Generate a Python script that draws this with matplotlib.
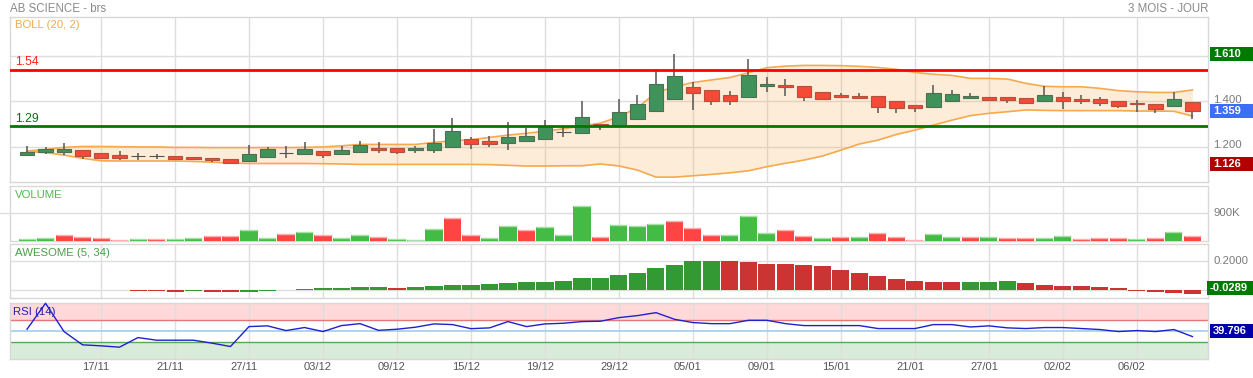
import numpy as np
import matplotlib
matplotlib.use('Agg')
import matplotlib.pyplot as plt
from matplotlib.patches import Rectangle
from matplotlib.transforms import blended_transform_factory

plt.rcParams['font.family'] = ['Liberation Sans', 'DejaVu Sans']

# ---------------- data ----------------
title = "AB SCIENCE - brs"
period = "3 MOIS - JOUR"
tick_labels = ['17/11', '21/11', '27/11', '03/12', '09/12', '15/12', '19/12', '29/12',
               '05/01', '09/01', '15/01', '21/01', '27/01', '02/02', '06/02']
tick_index = [4, 8, 12, 16, 20, 24, 28, 32, 36, 40, 44, 48, 52, 56, 60]

opens = [1.165, 1.175, 1.178, 1.185, 1.171, 1.163, 1.157, 1.157, 1.157, 1.154,
         1.150, 1.146, 1.138, 1.153, 1.171, 1.169, 1.181, 1.169, 1.178, 1.194,
         1.194, 1.187, 1.187, 1.200, 1.234, 1.225, 1.218, 1.226, 1.235, 1.263,
         1.262, 1.300, 1.291, 1.320, 1.356, 1.411, 1.463, 1.450, 1.428, 1.417,
         1.466, 1.472, 1.466, 1.441, 1.428, 1.423, 1.422, 1.400, 1.384, 1.376,
         1.403, 1.416, 1.419, 1.419, 1.413, 1.403, 1.419, 1.410, 1.409, 1.401,
         1.392, 1.388, 1.378, 1.397]
highs = [1.203, 1.197, 1.218, 1.187, 1.172, 1.181, 1.172, 1.166, 1.157, 1.154,
         1.150, 1.146, 1.206, 1.200, 1.201, 1.221, 1.181, 1.203, 1.226, 1.221,
         1.194, 1.203, 1.279, 1.326, 1.241, 1.246, 1.309, 1.282, 1.317, 1.285,
         1.401, 1.300, 1.410, 1.428, 1.533, 1.610, 1.486, 1.450, 1.445, 1.586,
         1.507, 1.497, 1.466, 1.441, 1.436, 1.436, 1.422, 1.400, 1.384, 1.472,
         1.450, 1.436, 1.419, 1.419, 1.413, 1.466, 1.441, 1.428, 1.419, 1.401,
         1.406, 1.388, 1.441, 1.397]
lows = [1.165, 1.169, 1.165, 1.147, 1.144, 1.141, 1.143, 1.147, 1.140, 1.141,
        1.134, 1.126, 1.138, 1.153, 1.150, 1.169, 1.152, 1.169, 1.178, 1.174,
        1.169, 1.174, 1.174, 1.200, 1.191, 1.199, 1.185, 1.223, 1.235, 1.244,
        1.262, 1.273, 1.291, 1.320, 1.356, 1.411, 1.363, 1.385, 1.385, 1.417,
        1.442, 1.425, 1.403, 1.412, 1.417, 1.413, 1.350, 1.350, 1.354, 1.376,
        1.403, 1.410, 1.403, 1.394, 1.387, 1.403, 1.368, 1.390, 1.381, 1.371,
        1.354, 1.350, 1.378, 1.322]
closes = [1.176, 1.190, 1.190, 1.159, 1.152, 1.152, 1.157, 1.157, 1.147, 1.146,
          1.143, 1.130, 1.166, 1.190, 1.171, 1.190, 1.165, 1.185, 1.207, 1.187,
          1.178, 1.196, 1.216, 1.269, 1.213, 1.213, 1.243, 1.247, 1.285, 1.263,
          1.329, 1.294, 1.353, 1.388, 1.476, 1.511, 1.435, 1.403, 1.403, 1.516,
          1.476, 1.461, 1.417, 1.412, 1.420, 1.416, 1.376, 1.369, 1.369, 1.436,
          1.432, 1.423, 1.407, 1.406, 1.394, 1.428, 1.403, 1.401, 1.394, 1.381,
          1.386, 1.367, 1.410, 1.359]

boll_upper = [1.181, 1.188, 1.197, 1.201, 1.201, 1.200, 1.199, 1.199, 1.197, 1.197,
              1.196, 1.196, 1.196, 1.196, 1.196, 1.197, 1.199, 1.204, 1.210, 1.210,
              1.210, 1.210, 1.219, 1.226, 1.231, 1.241, 1.251, 1.259, 1.268, 1.279,
              1.291, 1.304, 1.332, 1.372, 1.438, 1.464, 1.483, 1.494, 1.505, 1.526,
              1.548, 1.555, 1.558, 1.558, 1.557, 1.554, 1.549, 1.541, 1.527, 1.519,
              1.514, 1.501, 1.501, 1.498, 1.479, 1.466, 1.464, 1.464, 1.457, 1.447,
              1.442, 1.439, 1.439, 1.450]
boll_lower = [1.179, 1.174, 1.163, 1.149, 1.138, 1.137, 1.137, 1.137, 1.137, 1.135,
              1.132, 1.128, 1.126, 1.126, 1.126, 1.126, 1.125, 1.124, 1.122, 1.122,
              1.122, 1.122, 1.122, 1.122, 1.122, 1.121, 1.118, 1.115, 1.115, 1.116,
              1.116, 1.124, 1.115, 1.097, 1.066, 1.066, 1.072, 1.078, 1.085, 1.094,
              1.112, 1.127, 1.141, 1.159, 1.185, 1.212, 1.229, 1.254, 1.273, 1.295,
              1.317, 1.337, 1.347, 1.354, 1.362, 1.360, 1.359, 1.359, 1.359, 1.359,
              1.357, 1.357, 1.356, 1.335]

resistance = 1.54
support = 1.29

volume_k = [75, 86, 182, 129, 86, 43, 54, 54, 75, 86,
            150, 161, 343, 107, 214, 300, 204, 107, 204, 129,
            75, 43, 375, 729, 182, 107, 493, 343, 439, 204,
            1125, 118, 514, 482, 546, 643, 407, 182, 182, 814,
            257, 354, 150, 107, 118, 118, 268, 118, 21, 225,
            118, 118, 139, 86, 96, 107, 150, 75, 86, 96,
            54, 96, 279, 150]
volume_up = [1, 1, 0, 0, 0, 0, 1, 0, 1, 1,
             0, 0, 1, 1, 0, 1, 0, 1, 1, 0,
             1, 1, 1, 0, 0, 1, 1, 0, 1, 1,
             1, 0, 1, 1, 1, 0, 0, 0, 1, 1,
             1, 0, 0, 1, 0, 1, 0, 0, 0, 1,
             1, 0, 1, 0, 0, 1, 1, 0, 0, 0,
             1, 0, 1, 0]

awesome = [np.nan] * 6 + [
    -0.007, -0.007, -0.012, -0.007, -0.012, -0.012, -0.012, -0.005, 0.0, 0.007,
    0.014, 0.014, 0.021, 0.021, 0.014, 0.021, 0.028, 0.035, 0.035, 0.042,
    0.049, 0.056, 0.056, 0.063, 0.084, 0.084, 0.105, 0.118, 0.153, 0.174,
    0.202, 0.202, 0.202, 0.197, 0.181, 0.181, 0.174, 0.167, 0.139, 0.118,
    0.098, 0.077, 0.063, 0.056, 0.056, 0.056, 0.056, 0.063, 0.049, 0.035,
    0.028, 0.028, 0.021, 0.014, -0.007, -0.014, -0.019, -0.0289]
awesome_up = [0, 0, 0, 0, 0, 0, 0, 0, 0, 1,
              0, 0, 1, 1, 1, 1, 1, 1, 1, 1,
              0, 1, 1, 1, 1, 1, 1, 1, 1, 1,
              1, 1, 1, 1, 1, 1, 1, 1, 0, 0,
              0, 0, 0, 0, 0, 0, 0, 0, 0, 0,
              0, 1, 1, 1, 0, 0, 0, 0, 0, 0,
              0, 0, 0, 0]

rsi = [53, 99.5, 48.8, 25, 23.2, 20.8, 38, 33.3, 33.3, 33.3,
       28, 22, 57.7, 59, 50.6, 56, 48.8, 59.5, 63, 51,
       53, 56.6, 62.5, 61.3, 54, 55.4, 66.7, 57.7, 62.5, 63.7,
       66.7, 67.3, 73.8, 77.4, 82.7, 70.8, 64.9, 63, 63, 69,
       69, 63, 59.5, 59.5, 59.5, 59.5, 54.2, 54.2, 54.2, 61.3,
       61.3, 57, 59, 55.4, 54.2, 56, 56, 54.2, 52.4, 48.8,
       50.6, 48.8, 52.4, 39.796]

# ---------------- figure ----------------
W, H = 1253, 378
fig = plt.figure(figsize=(W / 100, H / 100), dpi=100)
n = len(closes)
x = np.arange(n)
GRID = '#dedede'
LABEL_FS = 8.2


def panel(y0, y1):
    ax = fig.add_axes([10 / W, 1 - y1 / H, 1198 / W, (y1 - y0) / H])
    for s in ax.spines.values():
        s.set_color('#d8d8d8')
        s.set_linewidth(1)
    ax.set_xlim(-0.92, 63.84)
    ax.set_xticks(tick_index)
    ax.tick_params(length=0, labelbottom=False, labelleft=False)
    ax.grid(axis='x', color=GRID, lw=1)
    ax.set_axisbelow(True)
    return ax


def box(y_center_px, text, color, x0=1210):
    h = 14
    fig.add_artist(Rectangle((x0 / W, 1 - (y_center_px + h / 2) / H), (1253 - x0) / W, h / H,
                             transform=fig.transFigure, facecolor=color, edgecolor='none'))
    fig.text((x0 + 3) / W, 1 - y_center_px / H, text, color='white', fontsize=8.0,
             fontweight='bold', ha='left', va='center')


def data_to_px(ax, val):
    disp = ax.transData.transform((0, val))[1]
    return H - disp * 100 / fig.dpi


def right_label(ax, val, text, dy=0.0):
    tr = blended_transform_factory(fig.transFigure, ax.transData)
    ax.text(1213 / W, val + dy, text, transform=tr, color='#7a7a7a', fontsize=LABEL_FS,
            ha='left', va='center', clip_on=False)


# ---- main price panel ----
ax = panel(17, 182)
ax.set_ylim(1.0445, 1.7714)
ax.set_yticks([1.2, 1.4, 1.6])
ax.grid(axis='y', color=GRID, lw=1)

up_arr = np.array(boll_upper)
lo_arr = np.array(boll_lower)
ax.fill_between(x, lo_arr, up_arr, color='#f7b35c', alpha=0.24, lw=0, zorder=1)
ax.plot(x, up_arr, color='#f6a94d', lw=1.2, zorder=2)
ax.plot(x, lo_arr, color='#f6a94d', lw=1.2, zorder=2)

o = np.array(opens); c = np.array(closes); hi = np.array(highs); lo = np.array(lows)
ax.vlines(x, lo, hi, color='#555555', lw=1.1, zorder=3)
face = []
edge = []
for oi, ci in zip(o, c):
    if ci > oi:
        face.append('#3f935a'); edge.append('#4f6f55')
    elif ci < oi:
        face.append('#f44a36'); edge.append('#b5503f')
    else:
        face.append('#555555'); edge.append('#555555')
body_h = np.abs(c - o)
ax.bar(x, np.where(body_h == 0, 0.0008, body_h), bottom=np.minimum(o, c), width=0.78,
       color=face, edgecolor=edge, linewidth=0.8, zorder=4)

ax.axhline(resistance, color='#ff0000', lw=2.0, zorder=5)
ax.axhline(support, color='#007800', lw=2.0, zorder=5)

tr_main = blended_transform_factory(fig.transFigure, ax.transData)
ax.text(15 / W, resistance + 0.006, f"{resistance:.2f}", transform=tr_main, color='#ff2020',
        fontsize=8.8, ha='left', va='bottom')
ax.text(15 / W, support + 0.006, f"{support:.2f}", transform=tr_main, color='#007800',
        fontsize=8.8, ha='left', va='bottom')
fig.text(15 / W, 1 - 25 / H, "BOLL (20, 2)", color='#f6a94d', fontsize=LABEL_FS,
         ha='left', va='center')

right_label(ax, 1.4, "1.400", dy=0.006)
right_label(ax, 1.2, "1.200", dy=0.006)
box(data_to_px(ax, max(highs)), f"{max(highs):.3f}", '#007a00')
box(data_to_px(ax, closes[-1]), f"{closes[-1]:.3f}", '#3d6ef5')
box(data_to_px(ax, min(lows)), f"{min(lows):.3f}", '#b30000')

fig.text(10 / W, 1 - 8.7 / H, title, color='#8a8a8a', fontsize=8.3, ha='left', va='center')
fig.text(1208 / W, 1 - 8.7 / H, period, color='#8a8a8a', fontsize=8.3, ha='right', va='center')

# ---- volume panel ----
axv = panel(186, 241)
axv.set_ylim(0, 1768)
axv.set_yticks([900])
axv.grid(axis='y', color=GRID, lw=1)
vcol = ['#44bb44' if u else '#ff4444' for u in volume_up]
vcap = ['#a8e0a8' if u else '#ffb0b0' for u in volume_up]
axv.bar(x, volume_k, width=0.92, color=vcol, lw=0, zorder=3)
axv.hlines(volume_k, x - 0.46, x + 0.46, colors=vcap, lw=1.0, zorder=4)
fig.text(15 / W, 1 - 195 / H, "VOLUME", color='#4cbb4c', fontsize=LABEL_FS, ha='left', va='center')
right_label(axv, 900, "900K")
fig.add_artist(plt.Line2D([0, 10 / W], [1 - 213.3 / H] * 2, color=GRID, lw=1,
                          transform=fig.transFigure))

# ---- awesome panel ----
axa = panel(244, 298)
axa.set_ylim(-0.0557, 0.3206)
axa.set_yticks([0.0, 0.2])
axa.grid(axis='y', color=GRID, lw=1)
acol = ['#339933' if u else '#cc3333' for u in awesome_up]
axa.bar(x, awesome, width=0.92, color=acol, lw=0, zorder=3)
fig.text(15 / W, 1 - 253 / H, "AWESOME (5, 34)", color='#4a9e4a', fontsize=LABEL_FS,
         ha='left', va='center')
right_label(axa, 0.2, "0.2000")
box(data_to_px(axa, awesome[-1]) - 6, f"{awesome[-1]:.4f}", '#007a00', x0=1207)

# ---- RSI panel ----
axr = panel(303, 358.5)
axr.set_ylim(0.5, 100)
axr.axhspan(70, 100, color='#ffd9d9', lw=0, zorder=0)
axr.axhspan(0, 30, color='#d9ebd9', lw=0, zorder=0)
axr.axhline(70, color='#e57777', lw=1, zorder=1)
axr.axhline(50, color='#9fcdf0', lw=1.2, zorder=1)
axr.axhline(30, color='#5aa55a', lw=1, zorder=1)
axr.plot(x, rsi, color='#2020cc', lw=1.0, zorder=4, clip_on=False)
fig.text(13 / W, 1 - 312 / H, "RSI (14)", color='#2222aa', fontsize=LABEL_FS, ha='left', va='center')
box(data_to_px(axr, rsi[-1]) - 6, f"{rsi[-1]:.3f}", '#0000aa')

tr_r = blended_transform_factory(axr.transData, axr.transAxes)
for ti, lab in zip(tick_index, tick_labels):
    axr.text(ti - 0.27, -0.155, lab, transform=tr_r, color='#555555', fontsize=8.0,
             ha='center', va='center', clip_on=False)

fig.savefig('out.png', dpi=100)
